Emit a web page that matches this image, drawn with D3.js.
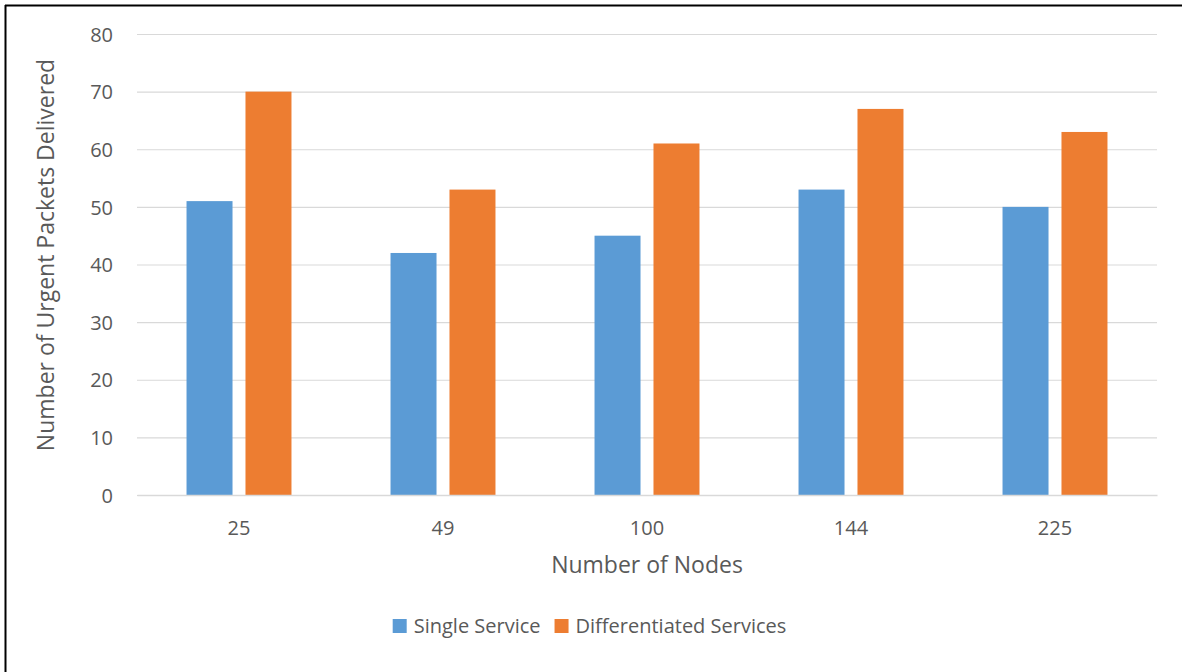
<!DOCTYPE html>
<html>
<head>
<meta charset="utf-8">
<script src="https://cdn.jsdelivr.net/npm/d3@7"></script>
<style>
  body { margin: 0; background: #fff; }
  text { font-family: "Open Sans", "Liberation Sans", sans-serif; fill: #595959; }
</style>
</head>
<body>
<svg id="chart" width="1182" height="672"></svg>
<script>
var nodes = ["25", "49", "100", "144", "225"]
var seriesNames = ["Single Service", "Differentiated Services"]
var singleService = [51, 42, 45, 53, 50]
var diffServices = [70, 53, 61, 67, 63]
var yTicks = [0, 10, 20, 30, 40, 50, 60, 70, 80]

var colors = ["#5B9BD5", "#ED7D31"]

var W = 1182, H = 672
var plot = {left: 137, right: 1157, top: 34, bottom: 495}

var svg = d3.select("#chart")

// frame (only top and left edge show in the picture)
svg.append("line")
  .attr("x1", 5).attr("x2", W).attr("y1", 5.5).attr("y2", 5.5)
  .attr("stroke", "#000").attr("stroke-width", 2)
svg.append("line")
  .attr("x1", 5.5).attr("x2", 5.5).attr("y1", 5).attr("y2", H)
  .attr("stroke", "#000").attr("stroke-width", 2)

var x = d3.scaleBand()
  .domain(nodes)
  .range([plot.left, plot.right])

var xs = d3.scaleBand()
  .domain(seriesNames)
  .range([0, x.bandwidth()])
  .paddingInner(0.22)
  .paddingOuter(0.84)

var y = d3.scaleLinear()
  .domain([0, 80])
  .range([plot.bottom, plot.top])

// gridlines + y labels
var yAxis = d3.axisLeft(y)
  .tickValues(yTicks)
  .tickSize(-(plot.right - plot.left))
  .tickPadding(24)

var gy = svg.append("g")
  .attr("transform", "translate(" + plot.left + ",0)")
  .call(yAxis)
gy.select(".domain").remove()
gy.selectAll(".tick line").attr("stroke", "#D9D9D9").attr("stroke-width", 1.2)
gy.selectAll(".tick text")
  .attr("font-size", 20)
  .style("fill", "#595959")
  .attr("dy", "0.36em")

// bars
var rows = nodes.map(function(n, i) {
  return {node: n, vals: [singleService[i], diffServices[i]]}
})

var groups = svg.append("g").selectAll("g")
  .data(rows)
  .enter().append("g")
  .attr("transform", function(d) { return "translate(" + x(d.node) + ",0)" })

groups.selectAll("rect")
  .data(function(d) { return d.vals.map(function(v, i) { return {s: seriesNames[i], v: v, i: i} }) })
  .enter().append("rect")
  .attr("x", function(d) { return xs(d.s) })
  .attr("width", xs.bandwidth())
  .attr("y", function(d) { return y(d.v) })
  .attr("height", function(d) { return y(0) - y(d.v) })
  .attr("fill", function(d) { return colors[d.i] })

// x axis
var xAxis = d3.axisBottom(x).tickSize(0).tickPadding(26)
var gx = svg.append("g")
  .attr("transform", "translate(0," + plot.bottom + ")")
  .call(xAxis)
gx.select(".domain").attr("stroke", "#D9D9D9").attr("stroke-width", 1.5)
gx.selectAll(".tick text")
  .attr("font-size", 20)
  .style("fill", "#595959")

// axis titles
svg.append("text")
  .attr("x", (plot.left + plot.right) / 2)
  .attr("y", 573)
  .attr("text-anchor", "middle")
  .attr("font-size", 23)
  .text("Number of Nodes")

svg.append("text")
  .attr("transform", "translate(54," + 255 + ") rotate(-90)")
  .attr("text-anchor", "middle")
  .attr("font-size", 23)
  .text("Number of Urgent Packets Delivered")

// legend
var legend = svg.append("g")
var lx = 0
seriesNames.forEach(function(name, i) {
  legend.append("rect")
    .attr("x", lx).attr("y", 0)
    .attr("width", 14).attr("height", 14)
    .attr("fill", colors[i])
  var t = legend.append("text")
    .attr("x", lx + 21).attr("y", 14)
    .attr("font-size", 20)
    .text(name)
  lx += 21 + t.node().getComputedTextLength() + 14
})
var lw = lx - 14
legend.attr("transform", "translate(" + (589.5 - lw / 2) + ",619)")
</script>
</body>
</html>
